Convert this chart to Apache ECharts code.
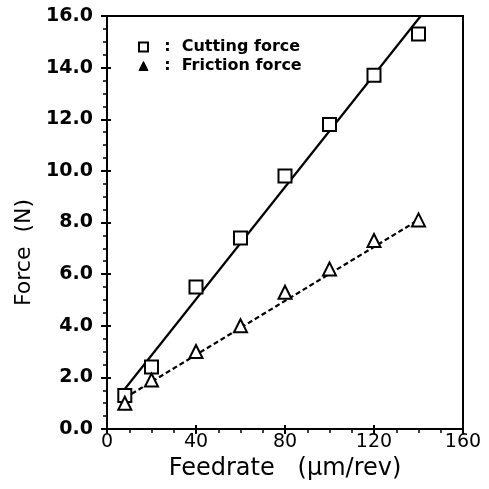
<!DOCTYPE html>
<html>
<head>
<meta charset="utf-8">
<script src="https://cdn.jsdelivr.net/npm/echarts@6/dist/echarts.min.js"></script>
<style>html,body{margin:0;padding:0;background:#fff}#c{width:489px;height:489px}</style>
</head>
<body>
<div id="c"></div>
<script>
const feedrate = [8, 20, 40, 60, 80, 100, 120, 140];
const cuttingForce = [1.3, 2.4, 5.5, 7.4, 9.8, 11.8, 13.7, 15.3];
const frictionForce = [1.0, 1.9, 3.0, 4.0, 5.3, 6.2, 7.3, 8.1];
const cuttingFitX = [8, 141];
const cuttingFitY = [1.55, 16.0];
const frictionFitX = [8, 140];
const frictionFitY = [1.2, 8.1];
const seriesNames = ['Cutting force', 'Friction force'];
const xTitle = 'Feedrate   (\u03bcm/rev)';
const yTitle = 'Force  (N)';

const FONT = 'DejaVu Sans';
const zip = (a, b) => a.map((v, i) => [v, b[i]]);

const chart = echarts.init(document.getElementById('c'), null, {renderer: 'canvas'});
const baseX = {
  type: 'value', min: 0, max: 160, interval: 40, gridIndex: 0
};
const baseY = {
  type: 'value', min: 0, max: 16, interval: 2, gridIndex: 0
};
chart.setOption({
  animation: false,
  backgroundColor: '#fff',
  grid: {left: 107, right: 26, top: 16, bottom: 60, show: true, borderColor: '#000', borderWidth: 2, backgroundColor: 'transparent'},
  legend: {
    orient: 'vertical', left: 133, top: 34, itemGap: 3,
    itemWidth: 9, itemHeight: 9,
    textStyle: {fontFamily: FONT, fontSize: 16, fontWeight: 'bold', color: '#000'},
    formatter: n => '  :  ' + n,
    data: [
      {name: seriesNames[0], icon: 'rect', itemStyle: {color: '#fff', borderColor: '#000', borderWidth: 2}},
      {name: seriesNames[1], icon: 'triangle', itemStyle: {color: '#000', borderColor: '#000', borderWidth: 1}}
    ]
  },
  xAxis: [
    Object.assign({}, baseX, {
      position: 'bottom',
      axisLine: {show: true, onZero: false, lineStyle: {color: '#000', width: 2}},
      axisTick: {show: true, length: 5, lineStyle: {color: '#000', width: 2}},
      minorTick: {show: true, splitNumber: 4, length: 4, lineStyle: {color: '#000', width: 1.5}},
      splitLine: {show: false},
      axisLabel: {fontFamily: FONT, fontSize: 19, color: '#000', margin: 4},
      name: xTitle, nameLocation: 'middle', nameGap: 25,
      nameTextStyle: {fontFamily: FONT, fontSize: 24, color: '#000'}
    }),
    Object.assign({}, baseX, {
      position: 'bottom',
      axisLine: {show: false, onZero: false},
      axisTick: {show: true, inside: true, length: 4, lineStyle: {color: '#000', width: 2}},
      axisLabel: {show: false}, splitLine: {show: false}
    })
  ],
  yAxis: [
    Object.assign({}, baseY, {
      position: 'left',
      axisLine: {show: true, onZero: false, lineStyle: {color: '#000', width: 2}},
      axisTick: {show: true, length: 6, lineStyle: {color: '#000', width: 2}},
      minorTick: {show: true, splitNumber: 4, length: 4, lineStyle: {color: '#000', width: 1.5}},
      splitLine: {show: false},
      axisLabel: {fontFamily: FONT, fontSize: 19, fontWeight: 'bold', color: '#000', margin: 14, formatter: v => v.toFixed(1)},
      name: yTitle, nameLocation: 'middle', nameGap: 62, nameRotate: 90,
      nameTextStyle: {fontFamily: FONT, fontSize: 22, color: '#000', padding: [0, 60, 0, 0]}
    }),
    Object.assign({}, baseY, {
      position: 'left',
      axisLine: {show: false, onZero: false},
      axisTick: {show: true, inside: true, length: 4, lineStyle: {color: '#000', width: 2}},
      axisLabel: {show: false}, splitLine: {show: false}
    })
  ],
  series: [
    {
      name: 'cutFit', type: 'line', data: zip(cuttingFitX, cuttingFitY),
      showSymbol: false, symbol: 'none', lineStyle: {color: '#000', width: 2.2}, z: 2, silent: true
    },
    {
      name: 'fricFit', type: 'line', data: zip(frictionFitX, frictionFitY),
      showSymbol: false, symbol: 'none', lineStyle: {color: '#000', width: 2.2, type: [5, 3]}, z: 2, silent: true
    },
    {
      name: seriesNames[0], type: 'scatter', data: zip(feedrate, cuttingForce),
      symbol: 'rect', symbolSize: 13,
      itemStyle: {color: '#fff', borderColor: '#000', borderWidth: 2, opacity: 1}, z: 3
    },
    {
      name: seriesNames[1], type: 'scatter', data: zip(feedrate, frictionForce),
      symbol: 'triangle', symbolSize: 13,
      itemStyle: {color: '#fff', borderColor: '#000', borderWidth: 2, opacity: 1}, z: 3
    }
  ]
});
</script>
</body>
</html>
